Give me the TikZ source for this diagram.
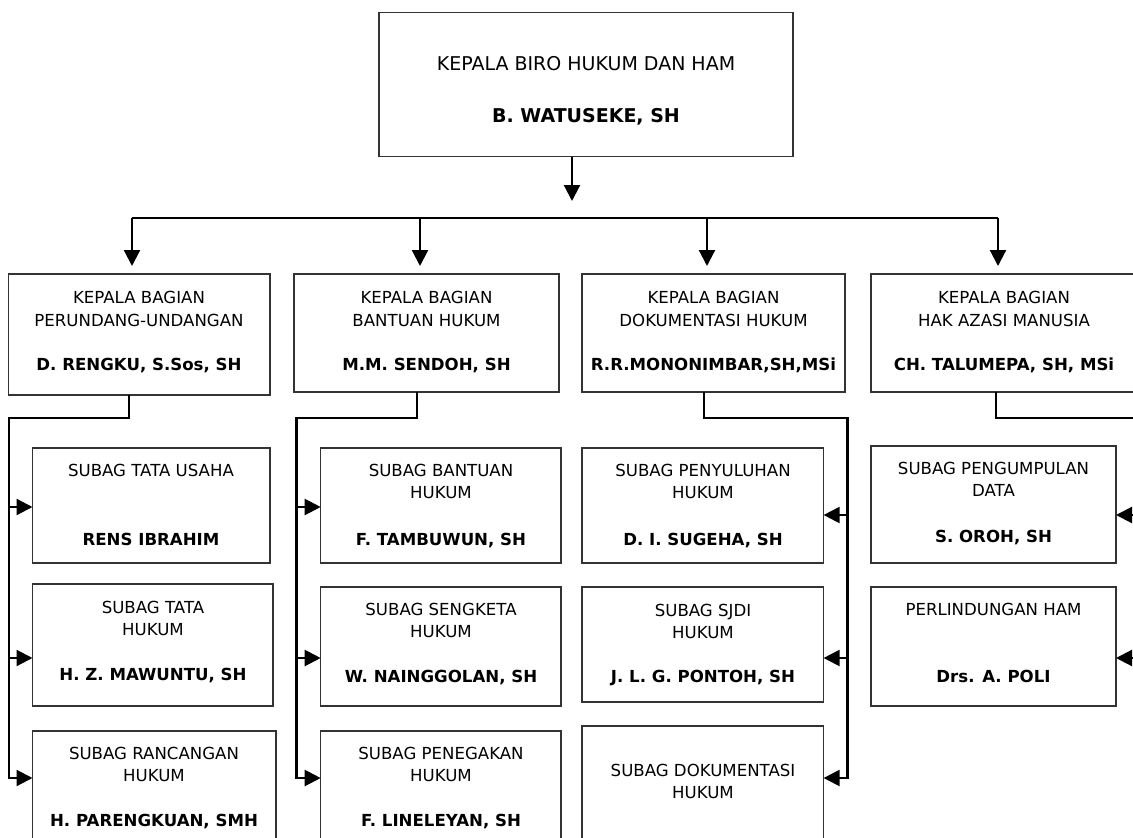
\documentclass[tikz,border=0pt]{standalone}
\usepackage{fontspec}
\setmainfont{DejaVu Sans}
\usetikzlibrary{arrows.meta}
\begin{document}
\begin{tikzpicture}[x=1pt,y=-1pt,
  box/.style={draw=black!80, line width=1.3pt, anchor=north west, inner sep=0pt, outer sep=0pt},
  conn/.style={line width=2.2pt, draw=black},
  arr/.style={conn, -{Triangle[length=16pt,width=16pt]}},
  ttl/.style={anchor=base, inner sep=0pt, font=\fontsize{16.6}{20}\selectfont},
  nm/.style={anchor=base, inner sep=0pt, font=\fontsize{16.6}{20}\selectfont\bfseries},
  bigttl/.style={anchor=base, inner sep=0pt, font=\fontsize{19}{23}\selectfont},
  bignm/.style={anchor=base, inner sep=0pt, font=\fontsize{19}{23}\selectfont\bfseries}]
\useasboundingbox (0,0) rectangle (1133,838);
\fill[white] (0,0) rectangle (1133,838);
\clip (0,0) rectangle (1133,838);

% ---------- boxes ----------
\node[box, minimum width=414pt, minimum height=144pt] (top) at (379,12.5) {};
\node[box, minimum width=261.4pt, minimum height=121pt] (b1) at (8.6,274) {};
\node[box, minimum width=265pt, minimum height=118pt] (b2) at (294,274) {};
\node[box, minimum width=263pt, minimum height=118pt] (b3) at (582,274) {};
\node[box, minimum width=266pt, minimum height=118pt] (b4) at (871,274) {};

\node[box, minimum width=237.5pt, minimum height=115pt] (s1a) at (32.5,448) {};
\node[box, minimum width=240.5pt, minimum height=122pt] (s1b) at (32.5,584) {};
\node[box, minimum width=243.5pt, minimum height=119pt] (s1c) at (32.5,731) {};
\node[box, minimum width=240.3pt, minimum height=115pt] (s2a) at (320.7,448) {};
\node[box, minimum width=240.3pt, minimum height=119pt] (s2b) at (320.7,587) {};
\node[box, minimum width=240.3pt, minimum height=119pt] (s2c) at (320.7,731) {};
\node[box, minimum width=241.6pt, minimum height=115pt] (s3a) at (582,448) {};
\node[box, minimum width=241.6pt, minimum height=115pt] (s3b) at (582,587) {};
\node[box, minimum width=241.6pt, minimum height=124pt] (s3c) at (582,726) {};
\node[box, minimum width=245pt, minimum height=117pt] (s4a) at (871,446) {};
\node[box, minimum width=245pt, minimum height=119pt] (s4b) at (871,587) {};

% ---------- texts ----------
\node[bigttl] (t0a) at (586,70) {KEPALA BIRO HUKUM DAN HAM};
\node[bignm] (t0b) at (586,122) {B. WATUSEKE, SH};

\node[ttl] (t1a) at (139,303) {KEPALA BAGIAN};
\node[ttl] (t1b) at (139,326) {PERUNDANG-UNDANGAN};
\node[nm]  (t1c) at (139,370) {D. RENGKU, S.Sos, SH};
\node[ttl] (t2a) at (426.5,303) {KEPALA BAGIAN};
\node[ttl] (t2b) at (426.5,326) {BANTUAN HUKUM};
\node[nm]  (t2c) at (426.5,370) {M.M. SENDOH, SH};
\node[ttl] (t3a) at (713.5,303) {KEPALA BAGIAN};
\node[ttl] (t3b) at (713.5,326) {DOKUMENTASI HUKUM};
\node[nm]  (t3c) at (713.5,370) {R.R.MONONIMBAR,SH,MSi};
\node[ttl] (t4a) at (1004,303) {KEPALA BAGIAN};
\node[ttl] (t4b) at (1004,326) {HAK AZASI MANUSIA};
\node[nm]  (t4c) at (1004,370) {CH. TALUMEPA, SH, MSi};

\node[ttl] (u1a) at (151,476) {SUBAG TATA USAHA};
\node[nm]  (u1b) at (151,545) {RENS IBRAHIM};
\node[ttl] (u1c) at (153,613) {SUBAG TATA};
\node[ttl] (u1d) at (153,635) {HUKUM};
\node[nm]  (u1e) at (153,680) {H. Z. MAWUNTU, SH};
\node[ttl] (u1f) at (154,759) {SUBAG RANCANGAN};
\node[ttl] (u1g) at (154,781) {HUKUM};
\node[nm]  (u1h) at (154,826) {H. PARENGKUAN, SMH};

\node[ttl] (u2a) at (441,476) {SUBAG BANTUAN};
\node[ttl] (u2b) at (441,498) {HUKUM};
\node[nm]  (u2c) at (441,545) {F. TAMBUWUN, SH};
\node[ttl] (u2d) at (441,615) {SUBAG SENGKETA};
\node[ttl] (u2e) at (441,637) {HUKUM};
\node[nm]  (u2f) at (441,682) {W. NAINGGOLAN, SH};
\node[ttl] (u2g) at (441,759) {SUBAG PENEGAKAN};
\node[ttl] (u2h) at (441,781) {HUKUM};
\node[nm]  (u2i) at (441,826) {F. LINELEYAN, SH};

\node[ttl] (u3a) at (703,476) {SUBAG PENYULUHAN};
\node[ttl] (u3b) at (703,498) {HUKUM};
\node[nm]  (u3c) at (703,545) {D. I. SUGEHA, SH};
\node[ttl] (u3d) at (703,616) {SUBAG SJDI};
\node[ttl] (u3e) at (703,638) {HUKUM};
\node[nm]  (u3f) at (703,682) {J. L. G. PONTOH, SH};
\node[ttl] (u3g) at (703,776) {SUBAG DOKUMENTASI};
\node[ttl] (u3h) at (703,798) {HUKUM};

\node[ttl] (u4a) at (993.5,474) {SUBAG PENGUMPULAN};
\node[ttl] (u4b) at (993.5,496) {DATA};
\node[nm]  (u4c) at (993.5,542) {S. OROH, SH};
\node[ttl] (u4d) at (993.5,615) {PERLINDUNGAN HAM};
\node[nm]  (u4e) at (993.5,682) {Drs. A. POLI};

% ---------- connectors from the head ----------
\coordinate (t0tip) at (572,201);
\coordinate (hl) at (132,218);
\coordinate (hr) at (998,218);
\coordinate (k1) at (132,266);
\coordinate (k2) at (420,266);
\coordinate (k3) at (707,266);
\coordinate (k4) at (998,266);
\draw[arr] (t0tip |- top.south) -- (t0tip);
\draw[conn] (hl) -- (hr);
\draw[arr] (k1 |- hl) -- (k1);
\draw[arr] (k2 |- hl) -- (k2);
\draw[arr] (k3 |- hl) -- (k3);
\draw[arr] (k4 |- hl) -- (k4);

% ---------- column 1 ----------
\coordinate (c1) at (128.6,418);
\coordinate (v1) at (8.6,418);
\coordinate (p1a) at (32.5,507);
\coordinate (p1b) at (32.5,658);
\coordinate (p1c) at (32.5,778);
\draw[arr] (c1 |- b1.south) -- (c1) -- (v1) -- (v1 |- p1c) -- (p1c);
\draw[arr] (v1 |- p1a) -- (p1a);
\draw[arr] (v1 |- p1b) -- (p1b);

% ---------- column 2 ----------
\coordinate (c2) at (417,418);
\coordinate (v2) at (296.4,418);
\coordinate (p2a) at (320.7,507);
\coordinate (p2b) at (320.7,658);
\coordinate (p2c) at (320.7,778);
\draw[arr] (c2 |- b2.south) -- (c2) -- (v2) -- (v2 |- p2c) -- (p2c);
\draw[arr] (v2 |- p2a) -- (p2a);
\draw[arr] (v2 |- p2b) -- (p2b);

% ---------- column 3 ----------
\coordinate (c3) at (704,418);
\coordinate (v3) at (847.5,418);
\coordinate (p3a) at (823.6,515);
\coordinate (p3b) at (823.6,658);
\coordinate (p3c) at (823.6,778);
\draw[arr] (c3 |- b3.south) -- (c3) -- (v3) -- (v3 |- p3c) -- (p3c);
\draw[arr] (v3 |- p3a) -- (p3a);
\draw[arr] (v3 |- p3b) -- (p3b);

% ---------- column 4 ----------
\coordinate (c4) at (995.7,418);
\coordinate (v4) at (1145,418);
\coordinate (p4a) at (1116,515);
\coordinate (p4b) at (1116,658);
\draw[arr] (c4 |- b4.south) -- (c4) -- (v4) -- (v4 |- p4b) -- (p4b);
\draw[arr] (v4 |- p4a) -- (p4a);
\end{tikzpicture}
\end{document}
